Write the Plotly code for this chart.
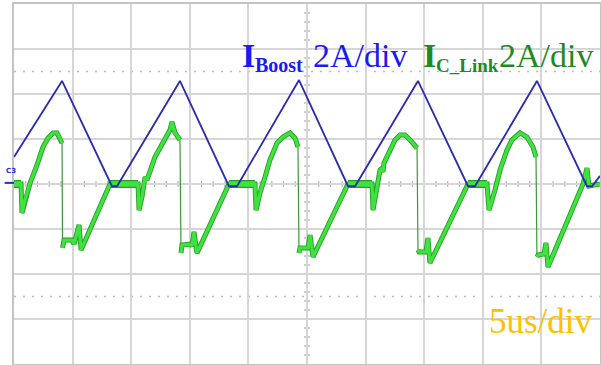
import plotly.graph_objects as go

# ---- data: time in microseconds, current in amperes ----
boost_t = [0.0, 4.10, 8.36, 8.79, 14.16, 18.34, 19.03, 24.32, 28.50, 29.10,
           34.47, 38.74, 39.33, 44.62, 48.89, 49.32, 50.0]
boost_i = [1.20, 4.58, -0.10, -0.10, 4.58, -0.10, -0.10, 4.62, -0.10, -0.10,
           4.58, -0.10, -0.10, 4.58, -0.10, -0.10, 0.36]

link_t = [0.00, 0.60, 0.68, 0.94, 1.37, 1.96, 2.47, 2.90, 3.33, 3.67, 3.92, 4.10,
          4.14, 4.27, 4.95, 5.12, 5.55, 5.72, 8.19,
          10.58, 10.67, 10.92, 11.18, 11.35, 12.03, 12.71, 13.31, 13.48, 13.74, 13.99, 14.16,
          14.25, 14.33, 15.02, 15.19, 15.36, 15.61, 18.34,
          20.56, 20.65, 20.99, 21.42, 21.84, 22.44, 22.95, 23.55, 23.98, 24.23,
          24.32, 24.40, 25.09, 25.26, 25.51, 28.50,
          30.55, 30.63, 30.89, 31.23, 31.40, 31.48, 31.57, 32.08, 32.51, 32.94, 33.36, 33.79, 34.39,
          34.47, 34.56, 35.15, 35.32, 35.49, 38.74,
          40.36, 40.53, 41.04, 41.47, 42.06, 42.49, 43.17, 43.77, 44.28, 44.54,
          44.62, 44.71, 45.22, 45.39, 45.56, 48.55, 48.89, 49.06, 50.00]
link_i = [0.00, 0.00, -1.29, -0.71, 0.04, 0.84, 1.64, 2.04, 2.27, 2.27, 2.04, 1.82,
          -2.84, -2.49, -2.49, -2.67, -1.82, -2.93, 0.00,
          0.00, -1.16, -0.58, 0.31, 0.18, 1.20, 1.82, 2.40, 2.76, 2.27, 2.09, 1.96,
          -3.07, -2.71, -2.67, -2.76, -2.13, -3.07, 0.00,
          0.00, -1.16, -0.40, 0.31, 1.07, 1.82, 2.09, 2.27, 2.04, 1.64,
          -3.07, -2.84, -2.84, -2.27, -3.24, 0.00,
          0.00, -1.16, -0.40, 0.62, 0.71, 0.53, 0.93, 1.51, 1.96, 2.18, 2.18, 1.96, 1.60,
          -2.93, -3.02, -3.02, -2.40, -3.51, 0.00,
          0.00, -1.16, -0.27, 0.62, 1.51, 1.96, 2.27, 2.09, 1.64, 1.20,
          -3.24, -3.16, -3.11, -2.62, -3.69, 0.00, 0.71, -0.09, 0.00]

T_RANGE = [0, 50]
I_RANGE = [-8, 8]
T_DIV = 5
I_DIV = 2

# ---- split the link trace: thin steep turn-off edges, thick elsewhere ----
thick_t, thick_i = [], []
flat_t, flat_i = [], []
for k in range(len(link_t)):
    if k > 0:
        dt = link_t[k] - link_t[k - 1]
        di = link_i[k] - link_i[k - 1]
        if dt < 0.2 and di < -2.0:
            thick_t.append(None)
            thick_i.append(None)
        if link_i[k] == 0 and link_i[k - 1] == 0 and dt > 0.5:
            flat_t += [link_t[k - 1], link_t[k], None]
            flat_i += [link_i[k - 1], link_i[k], None]
    thick_t.append(link_t[k])
    thick_i.append(link_i[k])

fig = go.Figure()

GREEN_DARK = "#2a9e2a"
GREEN = "#3fe23f"

fig.add_trace(go.Scatter(x=link_t, y=link_i, mode="lines",
                         line=dict(color="#3c963c", width=1.2), hoverinfo="skip"))
fig.add_trace(go.Scatter(x=thick_t, y=thick_i, mode="lines",
                         line=dict(color=GREEN_DARK, width=5), hoverinfo="skip"))
fig.add_trace(go.Scatter(x=flat_t, y=flat_i, mode="lines",
                         line=dict(color=GREEN_DARK, width=8), hoverinfo="skip"))
fig.add_trace(go.Scatter(x=thick_t, y=thick_i, mode="lines",
                         line=dict(color=GREEN, width=3.2), hoverinfo="skip"))
fig.add_trace(go.Scatter(x=flat_t, y=flat_i, mode="lines",
                         line=dict(color=GREEN, width=5.5), hoverinfo="skip"))
fig.add_trace(go.Scatter(x=boost_t, y=boost_i, mode="lines",
                         line=dict(color="#2b2bb0", width=1.8), hoverinfo="skip"))

# ---- graticule decorations ----
shapes = []
tc = (T_RANGE[0] + T_RANGE[1]) / 2
for yv in (5, -5):
    shapes.append(dict(type="line", xref="x", yref="y", x0=T_RANGE[0], x1=T_RANGE[1],
                       y0=yv, y1=yv, line=dict(color="#bdbdbd", width=1.5, dash="2px,7px"),
                       layer="below"))
shapes.append(dict(type="line", xref="x", yref="y", x0=T_RANGE[0], x1=T_RANGE[1], y0=0, y1=0,
                   line=dict(color="#a9a9a9", width=1.5), layer="below"))
shapes.append(dict(type="line", xref="x", yref="y", x0=tc, x1=tc, y0=I_RANGE[0], y1=I_RANGE[1],
                   line=dict(color="#a9a9a9", width=1.5), layer="below"))
n = int((T_RANGE[1] - T_RANGE[0]) / (T_DIV / 5))
for k in range(1, n):
    xv = T_RANGE[0] + k * T_DIV / 5
    shapes.append(dict(type="line", xref="x", yref="y", x0=xv, x1=xv, y0=-0.12, y1=0.12,
                       line=dict(color="#a9a9a9", width=1.2), layer="below"))
m = int((I_RANGE[1] - I_RANGE[0]) / (I_DIV / 5))
for k in range(1, m):
    yv = I_RANGE[0] + k * I_DIV / 5
    shapes.append(dict(type="line", xref="x", yref="y", x0=tc - 0.25, x1=tc + 0.25, y0=yv, y1=yv,
                       line=dict(color="#a9a9a9", width=1.2), layer="below"))
shapes.append(dict(type="line", xref="paper", yref="y", x0=-0.016, x1=0, y0=0.05, y1=0.05,
                   line=dict(color="#2b2bd0", width=2)))


def px(xp):
    return (xp - 14) / 586.0


def py(yp):
    return (364 - yp) / 360.0


FONT = "Liberation Serif"
BLUE_T = "#1a1af5"
GREEN_T = "#1f8a1f"
GOLD = "#ffc000"

ann = [
    dict(text="<b>I</b>", x=px(240), y=py(76), size=34, color=BLUE_T),
    dict(text="<b>Boost</b>", x=px(253), y=py(78), size=20, color=BLUE_T),
    dict(text="2A/div", x=px(311), y=py(76), size=34, color=BLUE_T),
    dict(text="<b>I</b>", x=px(421), y=py(76), size=34, color=GREEN_T),
    dict(text="<b>C_Link</b>", x=px(434), y=py(78), size=19, color=GREEN_T),
    dict(text="2A/div", x=px(497), y=py(76), size=34, color=GREEN_T),
    dict(text="5us/div", x=px(487), y=py(343), size=35, color=GOLD),
]
annotations = []
for a in ann:
    annotations.append(dict(text=a["text"], x=a["x"], y=a["y"], xref="paper", yref="paper",
                            xanchor="left", yanchor="bottom", showarrow=False,
                            font=dict(family=FONT, size=a["size"], color=a["color"])))
annotations.append(dict(text="<b>C3</b>", x=px(4), y=0.3, xref="paper", yref="y",
                        xanchor="left", yanchor="bottom", showarrow=False,
                        font=dict(family="DejaVu Sans", size=7, color="#2b2bd0")))

axis_common = dict(showgrid=True, gridcolor="#d6d6d6", gridwidth=1.5, zeroline=False,
                   showticklabels=False, ticks="", showline=True, mirror=True,
                   linecolor="#c4c4c4", linewidth=2, fixedrange=True)

fig.update_layout(
    width=601, height=365,
    margin=dict(l=14, r=1, t=4, b=1, autoexpand=False),
    paper_bgcolor="white", plot_bgcolor="white",
    showlegend=False,
    xaxis=dict(range=T_RANGE, dtick=T_DIV, tick0=0, **axis_common),
    yaxis=dict(range=I_RANGE, dtick=I_DIV, tick0=0, **axis_common),
    shapes=shapes,
    annotations=annotations,
)

fig.write_html("out.html", config={"displayModeBar": False},
               post_script="document.body.style.margin='0';document.body.style.overflow='hidden';")
